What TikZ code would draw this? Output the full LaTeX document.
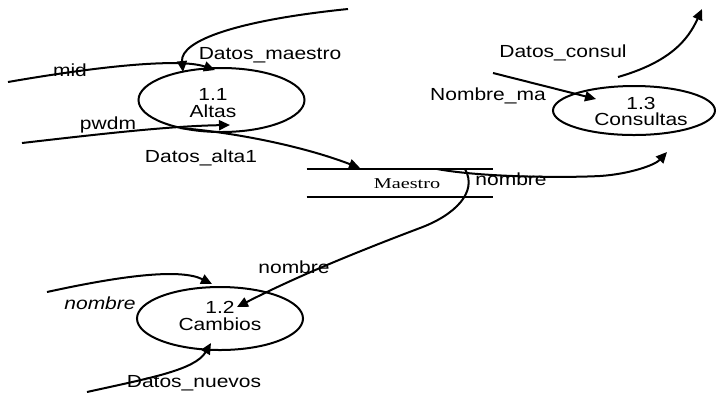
\documentclass[tikz,border=0pt]{standalone}
\usepackage{fontspec}
\setmainfont{Liberation Sans}[FakeStretch=1.2]
\newfontfamily\storefont{Liberation Serif}[FakeStretch=1.35]
\usetikzlibrary{arrows.meta,shapes.geometric}

\begin{document}
\begin{tikzpicture}[x=0.5pt,y=-0.5pt,
  flow/.style={line width=1pt,-{Triangle[length=5.5pt,width=5pt]}},
  proc/.style={draw,ellipse,line width=1pt,inner sep=0pt},
  ptext/.style={anchor=base,inner sep=0pt,font=\fontsize{8.75}{10}\selectfont},
  lbl/.style={anchor=base,inner sep=0pt,font=\fontsize{8.75}{10}\selectfont},
  storeline/.style={line width=1pt}]
\useasboundingbox (0,0) rectangle (716,393);

% processes
\node[proc,minimum width=83pt,minimum height=32pt] (a11) at (221.5,100) {};
\node[proc,minimum width=83pt,minimum height=31.5pt] (a12) at (220,318.5) {};
\node[proc,minimum width=81pt,minimum height=24.5pt] (a13) at (634,110.5) {};
\node[ptext] (a11n) at (213,100) {1.1};
\node[ptext] (a11t) at (213,117) {Altas};
\node[ptext] (a12n) at (220,313) {1.2};
\node[ptext] (a12t) at (220,330) {Cambios};
\node[ptext] (a13n) at (641,109) {1.3};
\node[ptext] (a13t) at (641,125) {Consultas};

% data store
\node[minimum width=93pt,minimum height=14pt,inner sep=0pt] (ms) at (400,183) {};
\draw[storeline] (ms.north west) -- (ms.north east);
\draw[storeline] (ms.south west) -- (ms.south east);
\node[anchor=base,inner sep=0pt,font=\storefont\fontsize{7.5}{8}\selectfont] (mst) at (407,188) {Maestro};

% connector end points
\coordinate (dmS) at (348,9);    \coordinate (dmE) at (183,72);
\coordinate (midS) at (8,82);    \coordinate (midE) at (215,70);
\coordinate (pwS) at (22,143);   \coordinate (pwE) at (230,125);
\coordinate (alS) at (180,128);  \coordinate (alE) at (360,168);
\coordinate (n3S) at (437,169);  \coordinate (n3E) at (667,152);
\coordinate (n2S) at (465,169);  \coordinate (n2E) at (237,307);
\coordinate (nlS) at (47,292);   \coordinate (nlE) at (212,284);
\coordinate (dnS) at (87,392);   \coordinate (dnE) at (211,343);
\coordinate (nmS) at (493,73);   \coordinate (nmE) at (596,99);
\coordinate (dcS) at (618,77);   \coordinate (dcE) at (702,9);

% flows
\draw[flow] (dmS) .. controls (240,20) and (180,40) .. (dmE);
\draw[flow] (midS) .. controls (100,66) and (180,58) .. (midE);
\draw[flow] (pwS) .. controls (100,134) and (170,126) .. (pwE);
\draw[flow] (alS) .. controls (230,132) and (300,145) .. (alE);
\draw[flow] (n3S) .. controls (480,177) and (560,178) .. (600,176)
            .. controls (630,174) and (655,165) .. (n3E);
\draw[flow] (n2S) .. controls (478,192) and (455,215) .. (420,228)
            .. controls (330,262) and (280,285) .. (n2E);
\draw[flow] (nlS) .. controls (120,276) and (180,268) .. (nlE);
\draw[flow] (dnS) .. controls (150,378) and (195,370) .. (dnE);
\draw[flow] (nmS) -- (nmE);
\draw[flow] (dcS) .. controls (670,62) and (688,40) .. (dcE);

% flow labels
\node[lbl] (l1) at (270,59) {Datos\_maestro};
\node[lbl] (l2) at (70,76) {mid};
\node[lbl] (l3) at (108,129) {pwdm};
\node[lbl] (l4) at (201,162) {Datos\_alta1};
\node[lbl] (l5) at (511,185) {nombre};
\node[lbl] (l6) at (294,273) {nombre};
\node[lbl,font=\fontsize{8.75}{10}\selectfont\itshape] (l7) at (100,309) {nombre};
\node[lbl] (l8) at (194,387) {Datos\_nuevos};
\node[lbl] (l9) at (488,100) {Nombre\_ma};
\node[lbl] (l10) at (563,57) {Datos\_consul};
\end{tikzpicture}
\end{document}
